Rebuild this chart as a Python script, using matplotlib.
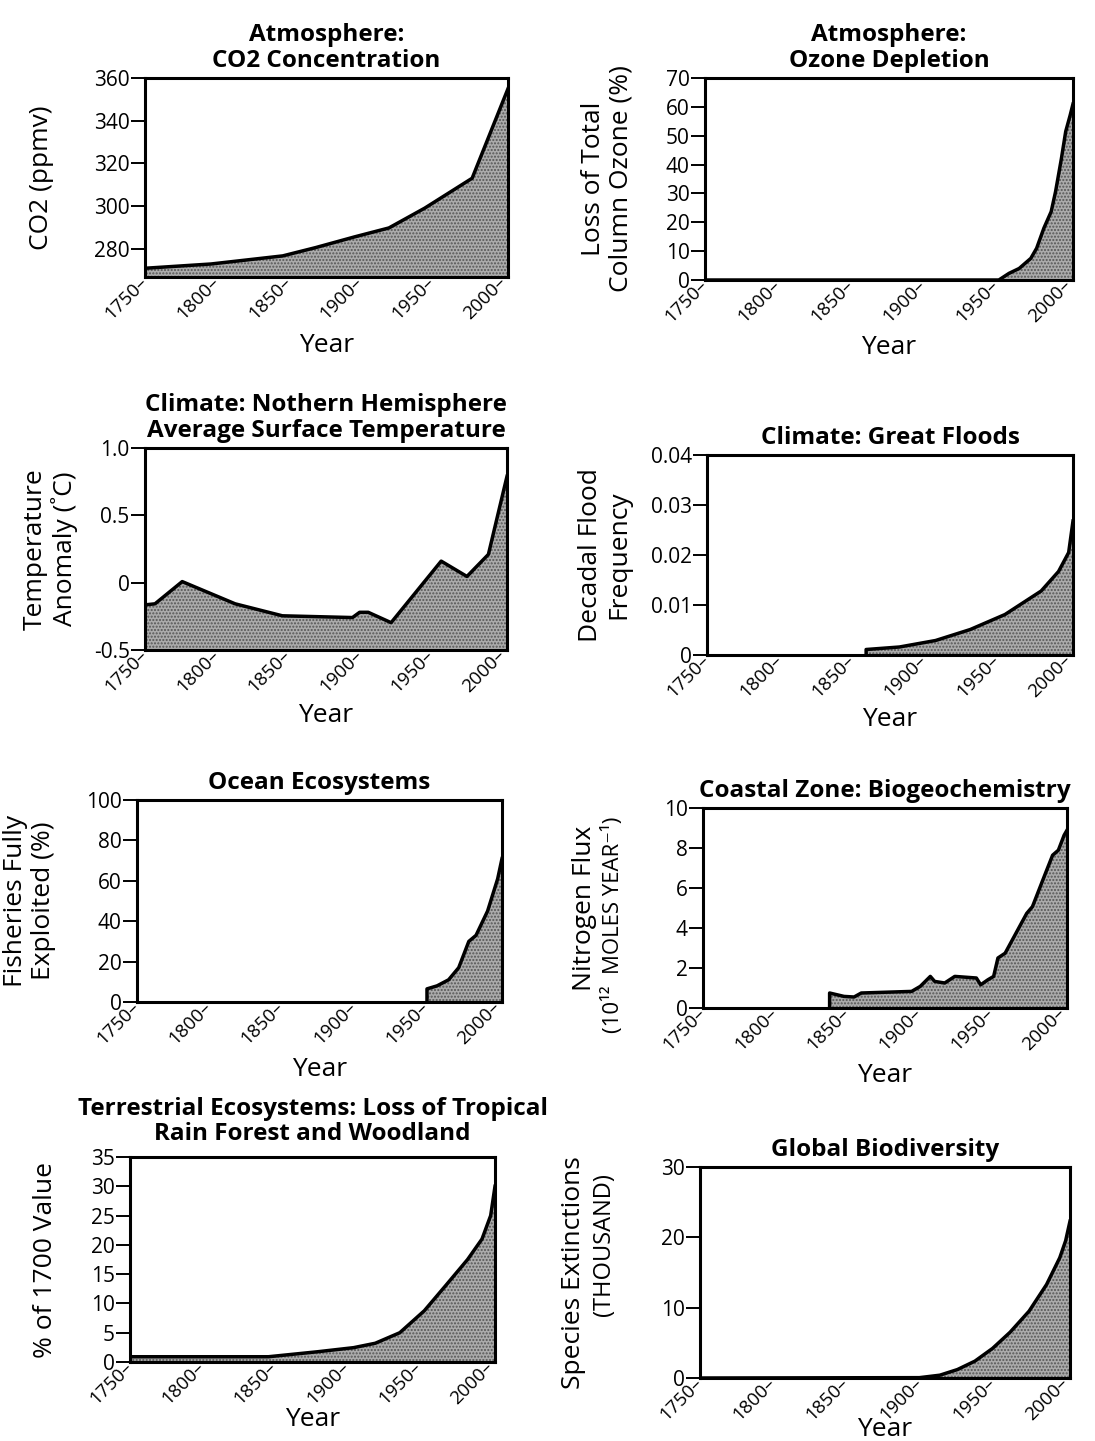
import matplotlib.pyplot as plt

plt.rcParams['font.family'] = ['Open Sans', 'DejaVu Sans']

year_ticks = [1750, 1800, 1850, 1900, 1950, 2000]

# Atmosphere: CO2 concentration
co2_year = [1750, 1796, 1846, 1869, 1896, 1920, 1945, 1978, 2003]
co2_ppmv = [270.8, 272.8, 276.6, 280.5, 285.5, 289.7, 299.0, 313.0, 355.0]
co2_ticks = [280, 300, 320, 340, 360]

# Atmosphere: ozone depletion
ozone_year = [1750, 1952, 1959, 1966, 1974, 1978, 1983, 1988, 1991, 1995, 1998, 2001, 2003]
ozone_loss = [0, 0, 2.3, 4.0, 7.5, 11.0, 18.0, 23.7, 30.6, 42.0, 51.5, 57.0, 61.0]
ozone_ticks = [0, 10, 20, 30, 40, 50, 60, 70]

# Climate: northern hemisphere temperature
temp_year = [1750, 1757, 1776, 1813, 1846, 1895, 1900, 1906, 1922, 1957, 1975, 1990, 2003]
temp_anom = [-0.165, -0.157, 0.008, -0.157, -0.246, -0.259, -0.22, -0.22, -0.297,
             0.16, 0.046, 0.21, 0.79]
temp_ticks = [-0.5, 0, 0.5, 1.0]
temp_labels = ["-0.5", "0", "0.5", "1.0"]

# Climate: great floods
flood_year = [1860, 1883, 1908, 1932, 1956, 1981, 1993, 2000, 2003]
flood_freq = [0.0011, 0.0016, 0.0029, 0.0051, 0.0081, 0.0128, 0.0167, 0.0205, 0.0268]
flood_ticks = [0, 0.01, 0.02, 0.03, 0.04]
flood_labels = ["0", "0.01", "0.02", "0.03", "0.04"]

# Ocean ecosystems
ocean_year = [1951, 1958, 1966, 1973, 1980, 1985, 1993, 2000, 2003]
ocean_pct = [6.5, 8.0, 11.0, 17.0, 30.0, 33.0, 45.0, 61.0, 71.0]
ocean_ticks = [0, 20, 40, 60, 80, 100]

# Coastal zone: nitrogen flux
n_year = [1838, 1848, 1855, 1860, 1895, 1901, 1908, 1911, 1918, 1925, 1940, 1943,
          1948, 1952, 1955, 1960, 1975, 1979, 1988, 1993, 1997, 2001, 2003]
n_flux = [0.75, 0.58, 0.55, 0.75, 0.83, 1.08, 1.58, 1.33, 1.25, 1.58, 1.5, 1.16,
          1.41, 1.58, 2.5, 2.74, 4.73, 5.07, 6.73, 7.64, 7.89, 8.64, 8.89]
n_ticks = [0, 2, 4, 6, 8, 10]

# Terrestrial ecosystems: loss of rain forest
forest_year = [1750, 1846, 1880, 1905, 1920, 1937, 1954, 1969, 1984, 1994, 2000, 2003]
forest_loss = [0.9, 0.9, 1.75, 2.45, 3.2, 5.0, 8.75, 13.1, 17.5, 21.0, 25.0, 30.0]
forest_ticks = [0, 5, 10, 15, 20, 25, 30, 35]

# Global biodiversity
bio_year = [1750, 1900, 1914, 1926, 1938, 1950, 1962, 1975, 1987, 1996, 2000, 2003]
bio_ext = [0, 0.05, 0.4, 1.2, 2.4, 4.2, 6.5, 9.5, 13.3, 17.1, 19.5, 22.3]
bio_ticks = [0, 10, 20, 30]

W, H = 1095, 1441
fig = plt.figure(figsize=(W / 100, H / 100), dpi=100)


def make_axes(left, right, top, bottom):
    return fig.add_axes([left / W, 1 - bottom / H, (right - left) / W, (bottom - top) / H])


def panel(ax, x, y, ylim, yticks, title, ylabel, label_x, year_y,
          ylabels=None, step_start=False, title_pad=8):
    pos = ax.get_position()
    left, width = pos.x0 * W, pos.width * W
    bottom, height = (1 - pos.y0) * H, pos.height * H
    ax.fill_between(x, y, ylim[0], facecolor='#ababab', hatch='.....',
                    edgecolor='#555555', linewidth=0)
    if step_start:
        ax.plot([x[0]] + list(x), [ylim[0]] + list(y), color='black', lw=2.5)
    else:
        ax.plot(x, y, color='black', lw=2.5)
    ax.set_xlim(1750, 2003)
    ax.set_ylim(*ylim)
    ax.set_yticks(yticks)
    if ylabels is not None:
        ax.set_yticklabels(ylabels)
    ax.set_xticks(year_ticks)
    ax.set_xticklabels([f"{t}\u2013" for t in year_ticks], rotation=45, ha='right',
                       va='center', rotation_mode='anchor')
    ax.tick_params(axis='x', length=0, pad=2, labelsize=13.5)
    ax.tick_params(axis='y', direction='out', length=10, width=1.4, pad=1, labelsize=15)
    for s in ax.spines.values():
        s.set_linewidth(2.2)
    ax.set_title(title, fontsize=17.5, fontweight='bold', pad=title_pad, linespacing=1.1)
    ax.set_xlabel("Year", fontsize=19, va='center')
    ax.xaxis.set_label_coords(0.5, (bottom - year_y) / height)
    ax.set_ylabel(ylabel, fontsize=19, linespacing=1.15)
    ax.yaxis.set_label_coords((label_x - left) / width, 0.5)


ax1 = make_axes(145, 508, 78, 277)
panel(ax1, co2_year, co2_ppmv, (266.7, 360), co2_ticks,
      "Atmosphere:\nCO2 Concentration", "CO2 (ppmv)", 54, 345)

ax2 = make_axes(705, 1073, 78, 280)
panel(ax2, ozone_year, ozone_loss, (0, 70), ozone_ticks,
      "Atmosphere:\nOzone Depletion", "Loss of Total\nColumn Ozone (%)", 634, 348)

ax3 = make_axes(145, 507, 448, 650)
panel(ax3, temp_year, temp_anom, (-0.5, 1.0), temp_ticks,
      "Climate: Nothern Hemisphere\nAverage Surface Temperature",
      "Temperature\nAnomaly (\u02daC)", 78, 716, ylabels=temp_labels)

ax4 = make_axes(707, 1073, 455, 655)
panel(ax4, flood_year, flood_freq, (0, 0.04), flood_ticks,
      "Climate: Great Floods", "Decadal Flood\nFrequency", 631, 720,
      ylabels=flood_labels, step_start=True)

ax5 = make_axes(137, 502, 800, 1002)
panel(ax5, ocean_year, ocean_pct, (0, 100), ocean_ticks,
      "Ocean Ecosystems", "Fisheries Fully\nExploited (%)", 56, 1070, step_start=True)

ax6 = make_axes(703, 1067, 808, 1008)
panel(ax6, n_year, n_flux, (0, 10), n_ticks,
      "Coastal Zone: Biogeochemistry", "Nitrogen Flux", 597, 1075, step_start=True)
fig.text(613 / W, 1 - 925 / H, "(10\u00b9\u00b2  MOLES YEAR\u207b\u00b9)", fontsize=16,
         rotation=90, ha='center', va='center')

ax7 = make_axes(130, 495, 1157, 1362)
panel(ax7, forest_year, forest_loss, (0, 35), forest_ticks,
      "Terrestrial Ecosystems: Loss of Tropical\nRain Forest and Woodland",
      "% of 1700 Value", 58, 1420, title_pad=12)

ax8 = make_axes(700, 1070, 1167, 1378)
panel(ax8, bio_year, bio_ext, (0, 30), bio_ticks,
      "Global Biodiversity", "Species Extinctions", 586, 1429)
fig.text(604 / W, 1 - 1245 / H, "(THOUSAND)", fontsize=17,
         rotation=90, ha='center', va='center')

fig.savefig("out.png", dpi=100)
